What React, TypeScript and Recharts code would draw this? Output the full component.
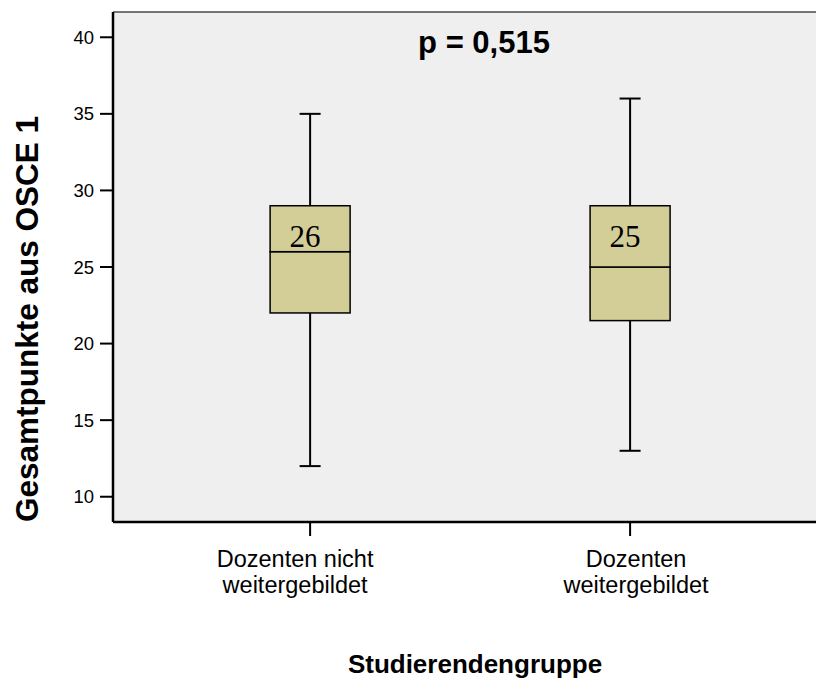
import { ComposedChart, Bar, XAxis, YAxis, CartesianGrid, ReferenceLine, LabelList, Label } from 'recharts';

// Boxplot of OSCE 1 totals per student group
const GROUPS = ['Dozenten nicht|weitergebildet', 'Dozenten|weitergebildet'];
const GROUP_X = [1, 2];
const MIN = [12, 13];
const Q1 = [22, 21.5];
const MEDIAN = [26, 25];
const Q3 = [29, 29];
const MAX = [35, 36];
const Y_TICKS = [10, 15, 20, 25, 30, 35, 40];
const P_VALUE = 'p = 0,515';

const SANS = '"Liberation Sans", Arial, sans-serif';
const SERIF = '"Liberation Serif", "Times New Roman", serif';
const BOX_FILL = '#d3ce98';
const LABEL_SHIFT = [-15, 6];

const data = GROUP_X.map((x, i) => ({
  x,
  base: MIN[i],
  lowWhisker: Q1[i] - MIN[i],
  lowBox: MEDIAN[i] - Q1[i],
  highBox: Q3[i] - MEDIAN[i],
  highWhisker: MAX[i] - Q3[i],
  median: MEDIAN[i],
}));

const Empty = () => null;

const BoxPart = (props: any) => {
  const { x, y, width, height } = props;
  return <rect x={x} y={y} width={width} height={height} fill={BOX_FILL} stroke="#000" strokeWidth={1.5} />;
};

const Whisker = (cap: 'top' | 'bottom') => (props: any) => {
  const { x, y, width, height } = props;
  const cx = x + width / 2;
  const cy = cap === 'top' ? y : y + height;
  return (
    <g stroke="#000" strokeWidth={2}>
      <line x1={cx} x2={cx} y1={y} y2={y + height} />
      <line x1={cx - 10.5} x2={cx + 10.5} y1={cy} y2={cy} />
    </g>
  );
};

const GroupTick = (props: any) => {
  const { x, y, payload } = props;
  const i = GROUP_X.indexOf(payload.value);
  if (i < 0) return null;
  const lines = GROUPS[i].split('|');
  const cx = x + LABEL_SHIFT[i];
  return (
    <text x={cx} y={y} textAnchor="middle" fontFamily={SANS} fontSize={23.5} fill="#000">
      {lines.map((t, k) => (
        <tspan key={k} x={cx} dy={k === 0 ? 29 : 26}>
          {t}
        </tspan>
      ))}
    </text>
  );
};

const MedianLabel = (props: any) => {
  const { x, y, width, value } = props;
  return (
    <text x={x + width / 2 - 5} y={y + 41} textAnchor="middle" fontFamily={SERIF} fontSize={31} fill="#000">
      {value}
    </text>
  );
};

export default function App() {
  return (
    <div style={{ position: 'absolute', left: 0, top: 0 }}>
      <ComposedChart width={816} height={684} data={data} margin={{ top: 12, right: 0, bottom: 62, left: 0 }}>
        <CartesianGrid fill="#efefef" horizontal={false} vertical={false} />
        <XAxis
          type="number"
          dataKey="x"
          domain={[0.384, 2.581]}
          ticks={GROUP_X}
          allowDataOverflow
          height={100}
          axisLine={{ stroke: '#000', strokeWidth: 2.5 }}
          tickLine={{ stroke: '#000', strokeWidth: 2 }}
          tickSize={14}
          tick={<GroupTick />}
          interval={0}
        >
          <Label
            content={(p: any) => (
              <text
                x={p.viewBox.x + 362}
                y={p.viewBox.y + 151}
                textAnchor="middle"
                fontFamily={SANS}
                fontWeight="bold"
                fontSize={26}
                fill="#000"
              >
                Studierendengruppe
              </text>
            )}
          />
        </XAxis>
        <YAxis
          type="number"
          domain={[8.35, 41.65]}
          ticks={Y_TICKS}
          allowDataOverflow
          width={113}
          axisLine={{ stroke: '#000', strokeWidth: 2.5 }}
          tickLine={{ stroke: '#000', strokeWidth: 2 }}
          tickSize={13}
          tickMargin={6}
          tick={{ fill: '#000', fontFamily: SANS, fontSize: 18.5 }}
        >
          <Label
            content={(p: any) => (
              <text
                x={0}
                y={0}
                transform={`translate(${p.viewBox.x + 38}, 319) rotate(-90)`}
                textAnchor="middle"
                fontFamily={SANS}
                fontWeight="bold"
                fontSize={31.5}
                fill="#000"
              >
                Gesamtpunkte aus OSCE 1
              </text>
            )}
          />
        </YAxis>
        <ReferenceLine
          y={41.65}
          stroke="#4a4a4a"
          strokeWidth={1.5}
          label={(p: any) => (
            <text
              x={p.viewBox.x + 371}
              y={p.viewBox.y + 41}
              textAnchor="middle"
              fontFamily={SANS}
              fontWeight="bold"
              fontSize={31}
              fill="#000"
            >
              {P_VALUE}
            </text>
          )}
        />
        <Bar dataKey="base" stackId="box" barSize={80} shape={<Empty />} isAnimationActive={false} />
        <Bar dataKey="lowWhisker" stackId="box" barSize={80} shape={Whisker('bottom')} isAnimationActive={false} />
        <Bar dataKey="lowBox" stackId="box" barSize={80} shape={<BoxPart />} isAnimationActive={false} />
        <Bar dataKey="highBox" stackId="box" barSize={80} shape={<BoxPart />} isAnimationActive={false}>
          <LabelList dataKey="median" content={<MedianLabel />} />
        </Bar>
        <Bar dataKey="highWhisker" stackId="box" barSize={80} shape={Whisker('top')} isAnimationActive={false} />
      </ComposedChart>
    </div>
  );
}
